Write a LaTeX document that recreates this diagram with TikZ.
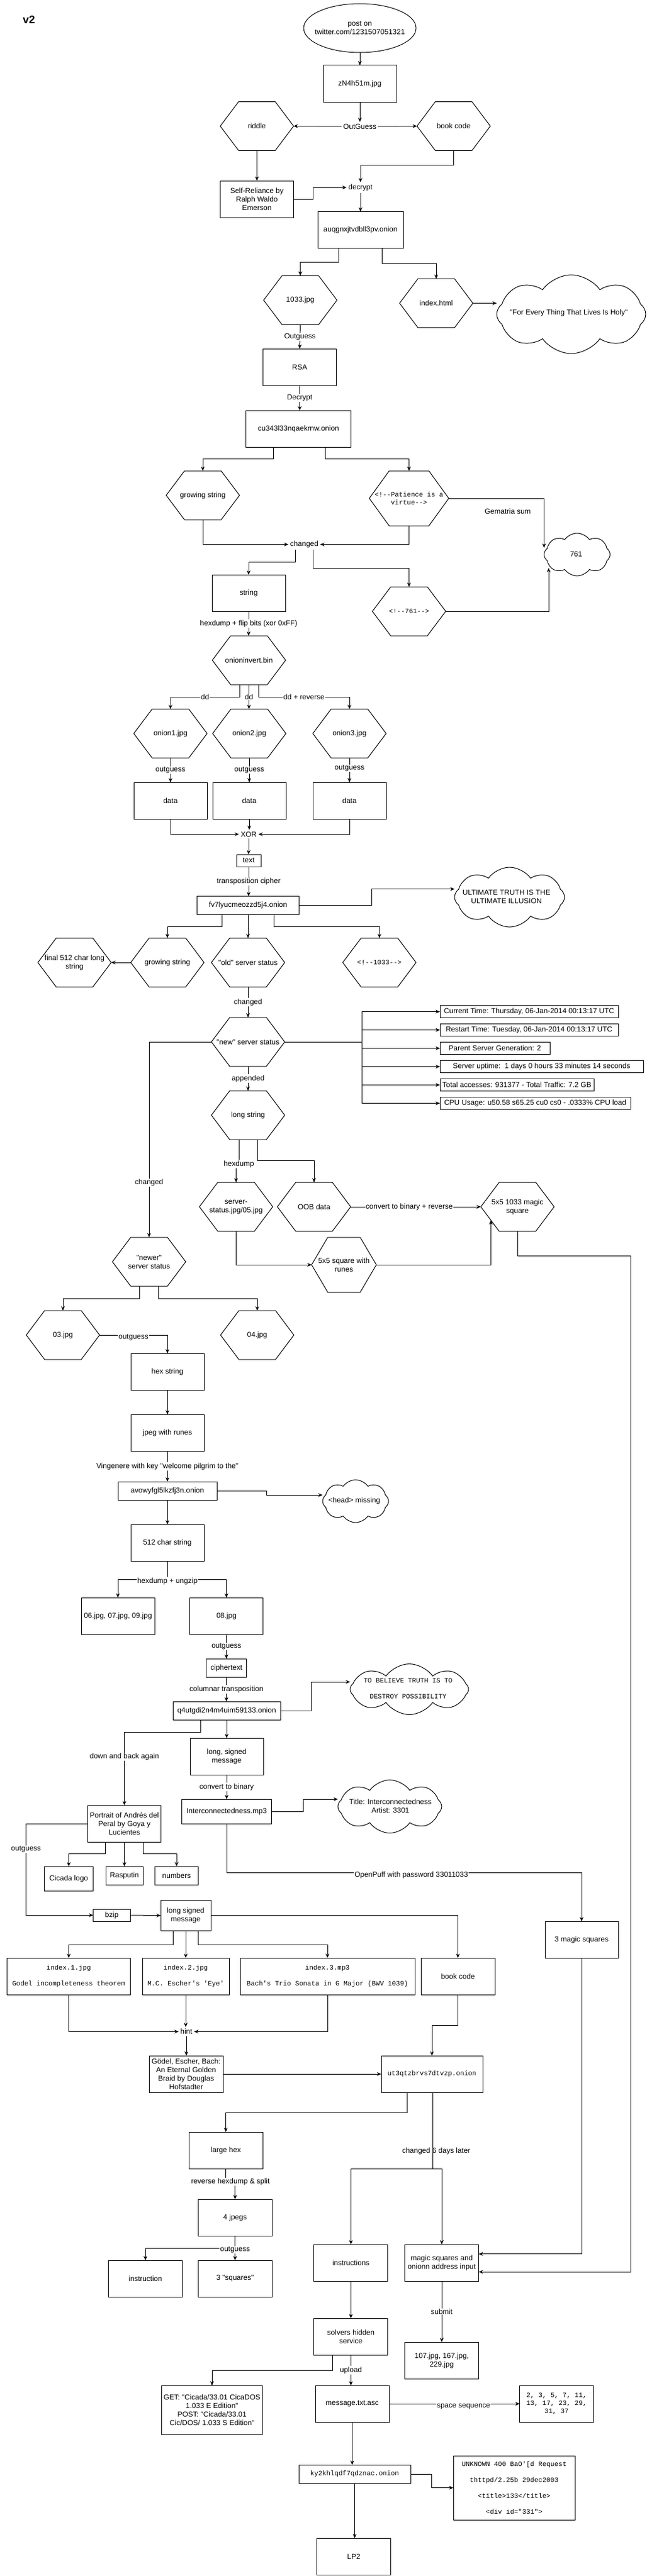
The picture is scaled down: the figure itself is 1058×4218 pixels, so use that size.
\documentclass[tikz,border=0pt]{standalone}
\usepackage{fontspec}
\setmainfont{Liberation Sans}[Ligatures=TeXOff]
\newfontfamily\monof{Liberation Mono}[Ligatures=TeXOff]
\usetikzlibrary{shapes.geometric,shapes.symbols,calc,arrows.meta}
\tikzset{
  nbase/.style={font=\fontsize{12pt}{14pt}\selectfont, align=center, inner sep=2pt, outer sep=0pt},
  box/.style={nbase, draw, line width=1pt, rectangle},
  hexn/.style={nbase, rectangle},
  txt/.style={nbase, inner sep=3pt},
  lbl/.style={nbase, fill=white, inner sep=1pt},
  mono/.style={font=\monof\fontsize{11pt}{13pt}\selectfont},
  cloudn/.style={draw, line width=1pt, cloud, cloud puffs=8, cloud puff arc=110, cloud ignores aspect, inner sep=0pt, outer sep=0pt},
  shapeline/.style={draw, line width=1pt},
  ln/.style={draw, line width=1pt},
  arr/.style={draw, line width=1pt, -{Stealth[length=7pt,width=6pt]}},
}
\newcommand\hexo[1]{\draw[shapeline] (#1.west) -- ($(#1.north west)!0.25!(#1.north east)$) -- ($(#1.north west)!0.75!(#1.north east)$) -- (#1.east) -- ($(#1.south west)!0.75!(#1.south east)$) -- ($(#1.south west)!0.25!(#1.south east)$) -- cycle;}
\begin{document}
\begin{tikzpicture}[x=1pt,y=-1pt]
\fill[white] (0,0) rectangle (1058,4218);
\useasboundingbox (0,0) rectangle (1058,4218);

% ---------------- nodes ----------------
\node[txt, font=\bfseries\fontsize{18pt}{20pt}\selectfont] (v2) at (47.5,32.5) {v2};
\node[shapeline, ellipse, minimum width=184pt, minimum height=80pt, inner sep=0pt, outer sep=0pt] (post) at (589,46) {};
\node[nbase] (postt) at (post) {post on\\twitter.com/1231507051321};
\node[box, minimum width=120pt, minimum height=60pt] (zn4) at (589,137) {zN4h51m.jpg};
\node[hexn, minimum width=120pt, minimum height=80pt] (riddle) at (420.5,206.5) {riddle};
\node[txt] (og) at (589,207) {OutGuess};
\node[hexn, minimum width=120pt, minimum height=80pt] (bc1) at (742.5,206.5) {book code};
\node[box, minimum width=120pt, minimum height=60pt] (selfrel) at (420.5,326) {Self-Reliance by\\Ralph Waldo\\Emerson};
\node[txt] (decrypt) at (590,307) {decrypt};
\node[box, minimum width=140pt, minimum height=60pt] (auq) at (590,376.5) {auqgnxjtvdbll3pv.onion};
\node[hexn, minimum width=120pt, minimum height=80pt] (j1033) at (491.5,491.5) {1033.jpg};
\node[hexn, minimum width=120pt, minimum height=80pt] (idxh) at (714,496.5) {index.html};
\node[cloudn, minimum width=244pt, minimum height=129pt] (holyc) at (935,514.5) {};
\node[nbase] (holyt) at (931,512) {"For Every Thing That Lives Is Holy"};
\node[box, minimum width=120pt, minimum height=60pt] (rsa) at (490.5,601) {RSA};
\node[box, minimum width=172pt, minimum height=60pt] (cu) at (488.5,702) {cu343l33nqaekrnw.onion};
\node[hexn, minimum width=120pt, minimum height=80pt] (grow1) at (332,811) {growing string};
\node[hexn, mono, minimum width=130pt, minimum height=90pt] (patience) at (669.5,816) {<!--Patience is a\\virtue-->};
\node[cloudn, minimum width=108pt, minimum height=70pt] (cl761) at (944.5,908) {};
\node[nbase] (cl761t) at (943,907) {761};
\node[nbase] (gem) at (831,837) {Gematria sum};
\node[txt] (changed1) at (498,891.5) {changed};
\node[box, minimum width=120pt, minimum height=60pt] (string) at (407,971) {string};
\node[hexn, mono, minimum width=120pt, minimum height=80pt] (c761) at (669.5,1001) {<!--761-->};
\node[hexn, minimum width=120pt, minimum height=80pt] (oinv) at (407.5,1081) {onioninvert.bin};
\node[hexn, minimum width=120pt, minimum height=80pt] (onion1) at (279,1201) {onion1.jpg};
\node[hexn, minimum width=120pt, minimum height=80pt] (onion2) at (408,1201) {onion2.jpg};
\node[hexn, minimum width=120pt, minimum height=80pt] (onion3) at (572,1201) {onion3.jpg};
\node[box, minimum width=120pt, minimum height=60pt] (data1) at (279,1311) {data};
\node[box, minimum width=120pt, minimum height=60pt] (data2) at (408,1311) {data};
\node[box, minimum width=120pt, minimum height=60pt] (data3) at (572,1311) {data};
\node[txt] (xor) at (407,1366) {XOR};
\node[box, minimum width=40pt, minimum height=20pt, inner sep=1pt] (textb) at (407,1409) {text};
\node[box, minimum width=167pt, minimum height=30pt] (fv7) at (406,1482.5) {fv7lyucmeozzd5j4.onion};
\node[cloudn, minimum width=180pt, minimum height=98pt] (ultc) at (834,1469) {};
\node[nbase] (ultt) at (829,1468) {ULTIMATE TRUTH IS THE\\ULTIMATE ILLUSION};
\node[hexn, minimum width=120pt, minimum height=80pt] (final512) at (122,1576) {final 512 char long\\string};
\node[hexn, minimum width=120pt, minimum height=80pt] (grow2) at (274,1576) {growing string};
\node[hexn, minimum width=120pt, minimum height=80pt] (oldss) at (406,1576) {"old" server status};
\node[hexn, mono, minimum width=120pt, minimum height=80pt] (c1033) at (621,1576) {<!--1033-->};
\node[hexn, minimum width=120pt, minimum height=80pt] (newss) at (406,1706) {"new" server status};
\node[box, inner sep=1pt, minimum width=292pt, minimum height=20pt] (cur) at (866,1656.5) {Current Time: Thursday, 06-Jan-2014 00:13:17 UTC};
\node[box, inner sep=1pt, minimum width=292pt, minimum height=20pt] (restart) at (866,1686.5) {Restart Time: Tuesday, 06-Jan-2014 00:13:17 UTC};
\node[box, inner sep=1pt, minimum width=180pt, minimum height=20pt] (parent) at (810,1716.5) {Parent Server Generation: 2};
\node[box, inner sep=1pt, minimum width=333pt, minimum height=20pt] (uptime) at (886.5,1746.5) {Server uptime:\ \ 1 days 0 hours 33 minutes 14 seconds};
\node[box, inner sep=1pt, minimum width=252pt, minimum height=20pt] (total) at (846,1776.5) {Total accesses: 931377 - Total Traffic: 7.2 GB};
\node[box, inner sep=1pt, minimum width=312pt, minimum height=20pt] (cpu) at (876,1806.5) {CPU Usage: u50.58 s65.25 cu0 cs0 - .0333\% CPU load};
\node[hexn, minimum width=120pt, minimum height=80pt] (longstr) at (406,1826) {long string};
\node[hexn, minimum width=120pt, minimum height=80pt] (ssjpg) at (386.4,1976) {server-\\status.jpg/05.jpg};
\node[hexn, minimum width=120pt, minimum height=80pt] (oob) at (514,1976) {OOB data};
\node[hexn, minimum width=120pt, minimum height=80pt] (magic5) at (847,1976) {5x5 1033 magic\\square};
\node[hexn, minimum width=106pt, minimum height=90pt] (runes) at (563,2071) {5x5 square with\\runes};
\node[hexn, minimum width=120pt, minimum height=80pt] (newer) at (244,2066) {"newer"\\server status};
\node[hexn, minimum width=120pt, minimum height=80pt] (j03) at (103,2186) {03.jpg};
\node[hexn, minimum width=120pt, minimum height=80pt] (j04) at (421,2186) {04.jpg};
\node[box, minimum width=120pt, minimum height=60pt] (hexstr) at (274,2246) {hex string};
\node[box, minimum width=120pt, minimum height=60pt] (jpegr) at (274,2346) {jpeg with runes};
\node[box, minimum width=162pt, minimum height=30pt] (avowy) at (274,2441) {avowyfgl5lkzfj3n.onion};
\node[cloudn, minimum width=108pt, minimum height=70pt] (headc) at (582,2458) {};
\node[nbase] (headt) at (580,2457) {<head> missing};
\node[box, minimum width=120pt, minimum height=60pt] (c512) at (274,2526) {512 char string};
\node[box, minimum width=120pt, minimum height=60pt] (j0679) at (193,2646) {06.jpg, 07.jpg, 09.jpg};
\node[box, minimum width=120pt, minimum height=60pt] (j08) at (370.6,2646) {08.jpg};
\node[box, minimum width=66pt, minimum height=30pt, inner sep=1pt] (cipher) at (370.6,2731) {ciphertext};
\node[box, minimum width=176pt, minimum height=30pt] (q4) at (371,2801) {q4utgdi2n4m4uim59133.onion};
\node[cloudn, minimum width=194pt, minimum height=83pt] (belc) at (670,2766) {};
\node[nbase, mono] (belt) at (668,2765) {TO BELIEVE TRUTH IS TO\\[13pt]DESTROY POSSIBILITY};
\node[box, minimum width=120pt, minimum height=60pt] (longsig) at (371,2876) {long, signed\\message};
\node[box, minimum width=147pt, minimum height=40pt] (inter) at (371,2966) {Interconnectedness.mp3};
\node[cloudn, minimum width=170pt, minimum height=87pt] (titc) at (638,2958) {};
\node[nbase] (titt) at (639,2957) {Title: Interconnectedness\\Artist: 3301};
\node[box, minimum width=120pt, minimum height=60pt] (portrait) at (203.6,2986) {Portrait of Andrés del\\Peral by Goya y\\Lucientes};
\node[box, minimum width=80pt, minimum height=40pt] (cicada) at (112.5,3076) {Cicada logo};
\node[box, minimum width=61pt, minimum height=30pt] (rasputin) at (203.6,3071) {Rasputin};
\node[box, minimum width=71pt, minimum height=30pt] (numbers) at (289,3071) {numbers};
\node[box, minimum width=61pt, minimum height=20pt, inner sep=1pt] (bzip) at (183,3136) {bzip};
\node[box, minimum width=82pt, minimum height=50pt] (longsig2) at (304,3136.5) {long signed\\message};
\node[box, minimum width=120pt, minimum height=60pt] (magic3) at (952,3176) {3 magic squares};
\node[box, mono, minimum width=202pt, minimum height=60pt] (idx1) at (112.5,3236) {index.1.jpg\\[13pt]Godel incompleteness theorem};
\node[box, mono, minimum width=142pt, minimum height=60pt] (idx2) at (304,3236) {index.2.jpg\\[13pt]M.C. Escher's 'Eye'};
\node[box, mono, minimum width=286pt, minimum height=60pt] (idx3) at (536,3236) {index.3.mp3\\[13pt]Bach's Trio Sonata in G Major (BWV 1039)};
\node[box, minimum width=121pt, minimum height=60pt] (bc2) at (749.5,3236) {book code};
\node[txt] (hint) at (305,3326.5) {hint};
\node[box, minimum width=121pt, minimum height=60pt] (geb) at (304.6,3396) {Gödel, Escher, Bach:\\An Eternal Golden\\Braid by Douglas\\Hofstadter};
\node[box, mono, minimum width=166pt, minimum height=60pt] (ut3) at (707,3396) {ut3qtzbrvs7dtvzp.onion};
\node[box, minimum width=121pt, minimum height=60pt] (largehex) at (369.6,3521) {large hex};
\node[box, minimum width=121pt, minimum height=60pt] (jpegs4) at (384.7,3631) {4 jpegs};
\node[box, minimum width=121pt, minimum height=60pt] (instr) at (238,3731) {instruction};
\node[box, minimum width=121pt, minimum height=60pt] (sq3) at (384.7,3731) {3 "squares"};
\node[box, minimum width=121pt, minimum height=60pt] (instrs) at (574.4,3705) {instructions};
\node[box, inner sep=1pt, minimum width=121pt, minimum height=60pt] (msqin) at (723,3705) {magic squares and\\onionn address input};
\node[box, minimum width=121pt, minimum height=60pt] (solvers) at (574.4,3826) {solvers hidden\\service};
\node[box, minimum width=121pt, minimum height=60pt] (j107) at (723,3865) {107.jpg, 167.jpg,\\229.jpg};
\node[box, inner sep=1pt, minimum width=165pt, minimum height=80pt] (getb) at (347,3946) {GET: "Cicada/33.01 CicaDOS\\1.033 E Edition"\\POST: "Cicada/33.01\\Cic/DOS/ 1.033 S Edition"};
\node[box, minimum width=121pt, minimum height=60pt] (msg) at (576.5,3936) {message.txt.asc};
\node[box, mono, minimum width=121pt, minimum height=60pt] (primes) at (911,3936) {2, 3, 5, 7, 11,\\13, 17, 23, 29,\\31, 37};
\node[box, mono, minimum width=183pt, minimum height=30pt] (ky2) at (580.5,4051) {ky2khlqdf7qdznac.onion};
\node[box, mono, minimum width=199pt, minimum height=105pt] (unk) at (841.6,4073.5) {UNKNOWN 400 BaO'[d Request\\[13pt]thttpd/2.25b 29dec2003\\[13pt]<title>133</title>\\[13pt]<div id="331">};
\node[box, minimum width=121pt, minimum height=60pt] (lp2) at (579,4186) {LP2};

% hexagon outlines
\foreach \h in {riddle,bc1,j1033,idxh,grow1,patience,c761,oinv,onion1,onion2,onion3,final512,grow2,oldss,c1033,newss,longstr,ssjpg,oob,magic5,runes,newer,j03,j04}{\hexo{\h}}

% ---------------- connectors ----------------
\draw[arr] (post.south) -- (zn4.north);
\draw[arr] (zn4.south) -- (og.north);
\draw[arr] (og.west) -- (riddle.east);
\draw[arr] (og.east) -- (bc1.west);
\draw[arr] (riddle.south) -- (selfrel.north);
\draw[arr] (bc1.south) -- ++(0,24) -| (decrypt.north);
\draw[arr] (selfrel.east) -- ++(32,0) |- (decrypt.west);
\draw[arr] (decrypt.south) -- (auq.north);
\draw[arr] ([xshift=-35.5pt]auq.south) -- ++(0,22.5) -| (j1033.north);
\draw[arr] ([xshift=35.5pt]auq.south) -- ++(0,24.5) -| (idxh.north);
\draw[arr] (idxh.east) -- (idxh.east -| holyc.west);
\draw[arr] (j1033.south) -- (rsa.north) node[lbl, midway] (l1) {Outguess};
\draw[arr] (rsa.south) -- (rsa.south |- cu.north) node[lbl, midway] (l2) {Decrypt};
\draw[arr] ([xshift=-41.5pt]cu.south) -- ++(0,19) -| (grow1.north);
\draw[arr] ([xshift=43.5pt]cu.south) -- ++(0,19) -| (patience.north);
\draw[arr] (patience.east) -| ([yshift=11pt]cl761.west);
\draw[arr] (grow1.south) |- (changed1.west);
\draw[arr] (patience.south) |- (changed1.east);
\draw[arr] ([xshift=-14.4pt]changed1.south) -- ++(0,20) -| (string.north);
\draw[arr] ([xshift=14pt]changed1.south) -- ++(0,30) -| (c761.north);
\draw[arr] (c761.east) -| ([xshift=-46.5pt,yshift=13pt]cl761.south);
\draw[arr] (string.south) -- (string.south |- oinv.north) node[lbl, midway] (l3) {hexdump + flip bits (xor 0xFF)};
\draw[arr] ([xshift=-15.5pt]oinv.south) -- ++(0,20) -| (onion1.north) node[lbl, pos=0.25] (l4) {dd};
\draw[arr] (oinv.south) -- (oinv.south |- onion2.north) node[lbl, midway] (l5) {dd};
\draw[arr] ([xshift=15.5pt]oinv.south) -- ++(0,20) -| (onion3.north) node[lbl, pos=0.25] (l6) {dd + reverse};
\draw[arr] (onion1.south) -- (data1.north) node[lbl, midway] (l7) {outguess};
\draw[arr] (onion2.south) -- (data2.north) node[lbl, midway] (l8) {outguess};
\draw[arr] (onion3.south) -- (data3.north) node[lbl, pos=0.43] (l9) {outguess};
\draw[arr] (data1.south) |- (xor.west);
\draw[arr] (data2.south) -- (data2.south |- xor.north);
\draw[arr] (data3.south) |- (xor.east);
\draw[arr] (xor.south) -- (textb.north);
\draw[arr] (textb.south) -- (textb.south |- fv7.north) node[lbl, midway] (l10) {transposition cipher};
\draw[arr] (fv7.east) -- ++(119,0) |- ([yshift=13.3pt]ultc.west);
\draw[arr] ([xshift=-42.5pt]fv7.south) -- ++(0,19.5) -| (grow2.north);
\draw[arr] (fv7.south) -- (oldss.north);
\draw[arr] ([xshift=42pt]fv7.south) -- ++(0,19.5) -| (c1033.north);
\draw[arr] (grow2.west) -- (final512.east);
\draw[arr] (oldss.south) -- (newss.north) node[lbl, midway] (l11) {changed};
\coordinate (trk) at (592,1706);
\draw[ln] (newss.east) -- (trk);
\draw[ln] (trk |- cur.west) -- (trk |- cpu.west);
\foreach \b in {cur,restart,parent,uptime,total,cpu}{\draw[arr] (trk |- \b.west) -- (\b.west);}
\draw[arr] (newss.west) -| (newer.north) node[lbl, pos=0.86] (l12) {changed};
\draw[arr] (newss.south) -- (longstr.north) node[lbl, midway] (l13) {appended};
\draw[arr] ([xshift=-15pt]longstr.south) -- ++(0,40) node[lbl] (l14) {hexdump} -| (ssjpg.north);
\draw[arr] ([xshift=15.5pt]longstr.south) -- ++(0,34.5) -| (oob.north);
\draw[arr] (oob.east) -- (magic5.west) node[lbl, pos=0.45] (l15) {convert to binary + reverse};
\draw[arr] (ssjpg.south) |- (runes.west);
\draw[arr] (runes.east) -| ($(magic5.west)!0.55!([xshift=30pt]magic5.south west)$);
\draw[arr] (magic5.south) -- ++(0,40) -- ++(185,0) |- ([yshift=-15pt]msqin.east);
\draw[arr] ([xshift=-15.5pt]newer.south) -- ++(0,20) -| (j03.north);
\draw[arr] ([xshift=15pt]newer.south) -- ++(0,20) -| (j04.north);
\draw[arr] (j03.east) -| (hexstr.north) node[lbl, pos=0.25, yshift=-4pt] (l16) {outguess};
\draw[arr] (hexstr.south) -- (jpegr.north);
\draw[arr] (jpegr.south) -- (avowy.north) node[lbl, midway] (l17) {Vingenere with key "welcome pilgrim to the"};
\draw[arr] (avowy.east) -- ++(81.5,0) |- ([yshift=10pt]headc.west);
\draw[arr] (avowy.south) -- (c512.north);
\draw[ln] (c512.south) -- ++(0,30) coordinate (sp512);
\draw[arr] (sp512) -| (j0679.north);
\draw[arr] (sp512) -| (j08.north);
\node[lbl] (l18) at ([yshift=-3pt]sp512) {hexdump + ungzip};
\draw[arr] (j08.south) -- (cipher.north) node[lbl, midway] (l19) {outguess};
\draw[arr] (cipher.south) -- (cipher.south |- q4.north) node[lbl, midway] (l20) {columnar transposition};
\draw[arr] (q4.east) -- ++(50.5,0) |- ([yshift=12pt]belc.west);
\draw[arr] ([xshift=-43pt]q4.south) -- ++(0,20) -| (portrait.north) node[lbl, pos=0.667] (l21) {down and back again};
\draw[arr] (q4.south) -- (q4.south |- longsig.north);
\draw[arr] (longsig.south) -- (inter.north) node[lbl, midway] (l22) {convert to binary};
\draw[arr] (inter.east) -- ++(51.6,0) |- ([yshift=12pt]titc.west);
\draw[arr] (inter.south) -- ++(0,80) -| (magic3.north) node[lbl, pos=0.26, yshift=-4pt] (l23) {OpenPuff with password 33011033};
\draw[arr] ([xshift=-31pt]portrait.south) -- ++(0,19.3) -| (cicada.north);
\draw[arr] (portrait.south) -- (rasputin.north);
\draw[arr] ([xshift=30.4pt]portrait.south) -- ++(0,19.3) -| (numbers.north);
\draw[arr] (portrait.west) -- ++(-101,0) |- (bzip.west) node[lbl, pos=0.14] (l24) {outguess};
\draw[arr] (bzip.east) -- (longsig2.west);
\draw[arr] (longsig2.east) -| (bc2.north);
\draw[arr] ([xshift=-21pt]longsig2.south) -- ++(0,22.5) -| (idx1.north);
\draw[arr] (longsig2.south) -- (idx2.north);
\draw[arr] ([xshift=20.7pt]longsig2.south) -- ++(0,22.5) -| (idx3.north);
\draw[arr] (idx1.south) |- (hint.west);
\draw[arr] (idx2.south) -- (idx2.south |- hint.north);
\draw[arr] (idx3.south) |- (hint.east);
\draw[arr] (hint.south) -- (hint.south |- geb.north);
\draw[arr] (geb.east) -- (ut3.west);
\draw[arr] (bc2.south) -- ++(0,50) -| (ut3.north);
\draw[arr] ([xshift=-40.6pt]ut3.south) -- ++(0,33) -| (largehex.north);
\draw[ln] ([xshift=1pt]ut3.south) -- ++(0,125) coordinate (sp6);
\draw[arr] (sp6) -| (instrs.north);
\draw[arr] (sp6) -| (msqin.north);
\node[nbase] (l25) at (714,3522.7) {changed 6 days later};
\draw[arr] (magic3.south) |- ([yshift=14.3pt]msqin.east);
\draw[arr] (largehex.south) -- ++(0,21.5) -| (jpegs4.north) node[lbl, pos=0.25] (l26) {reverse hexdump \& split};
\draw[ln] (jpegs4.south) -- ++(0,20) coordinate (sp4);
\draw[arr] (sp4) -| (instr.north);
\draw[arr] (sp4) -- (sq3.north);
\node[lbl] (l27) at ([yshift=-3pt]sp4) {outguess};
\draw[arr] (instrs.south) -- (solvers.north);
\draw[arr] (msqin.south) -- (j107.north) node[lbl, midway] (l28) {submit};
\draw[arr] ([xshift=-30.4pt]solvers.south) -- ++(0,25) -| (getb.north);
\draw[arr] (solvers.south) -- (solvers.south |- msg.north) node[lbl, midway] (l29) {upload};
\draw[arr] (msg.east) -- (primes.west) node[lbl, pos=0.57, yshift=-4pt] (l30) {space sequence};
\draw[arr] (msg.south) -- (msg.south |- ky2.north);
\draw[arr] (ky2.east) -- ++(34,0) |- (unk.west);
\draw[arr] (ky2.south) -- (ky2.south |- lp2.north);
\end{tikzpicture}
\end{document}
